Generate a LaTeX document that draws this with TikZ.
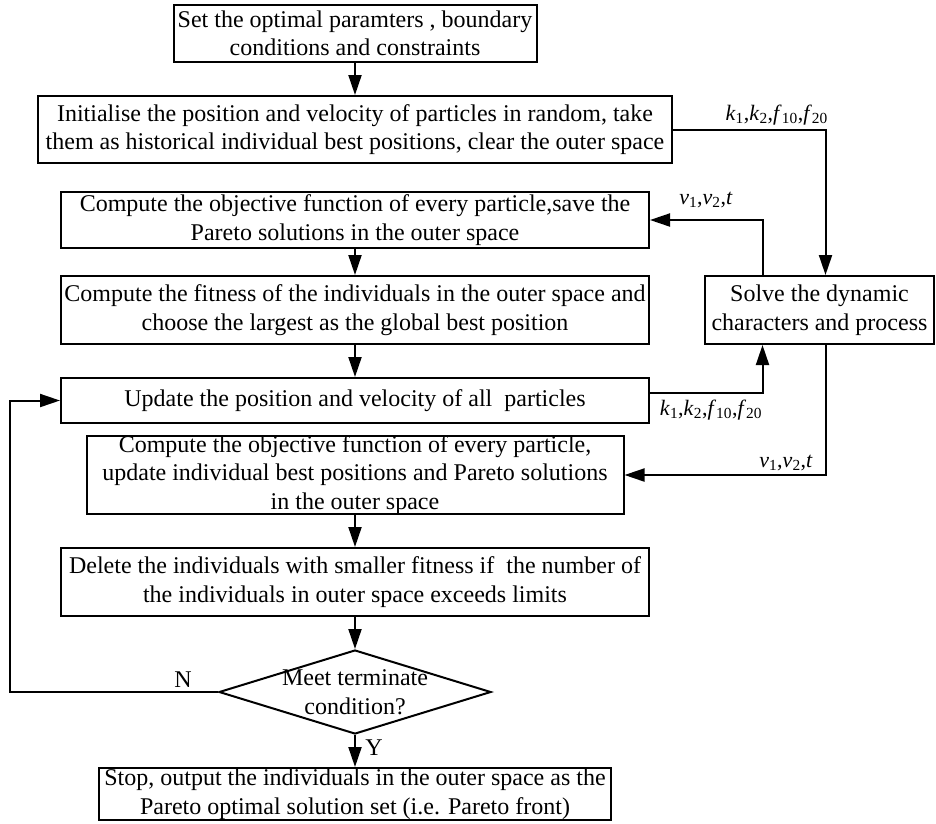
\documentclass[tikz,border=0pt]{standalone}
\usepackage{fontspec}
\setmainfont{Liberation Serif}
\usetikzlibrary{arrows.meta,shapes.geometric}
\begin{document}
\begin{tikzpicture}[x=1pt,y=-1pt,
  box/.style={draw,line width=2pt,inner sep=0pt,rectangle},
  txt/.style={align=center,inner sep=0pt,font=\fontsize{24}{28.5}\selectfont},
  lbl/.style={inner sep=0pt,font=\fontsize{22}{24}\selectfont},
  arr/.style={line width=2pt,-{Triangle[length=20pt,width=13pt]}},
  ln/.style={line width=2pt}]
\useasboundingbox (0,0) rectangle (936,823);
% boxes
\node[box,minimum width=363pt,minimum height=57pt] (b1) at (355,33.5) {};
\node[box,minimum width=634pt,minimum height=67pt] (b2) at (355,129.5) {};
\node[box,minimum width=588pt,minimum height=56pt] (b3) at (355,220) {};
\node[box,minimum width=588pt,minimum height=68pt] (b4) at (355,310) {};
\node[box,minimum width=229pt,minimum height=68pt] (sol) at (819.5,310) {};
\node[box,minimum width=588pt,minimum height=45pt] (upd) at (355,400.5) {};
\node[box,minimum width=537pt,minimum height=78pt] (c2) at (355,475) {};
\node[box,minimum width=588pt,minimum height=68pt] (del) at (355,582) {};
\node[draw,line width=2pt,diamond,inner sep=0pt,minimum width=272pt,minimum height=84pt] (dia) at (355,692) {};
\node[box,minimum width=512pt,minimum height=52pt] (stop) at (355,794) {};
% texts
\node[txt] at (b1) {Set the optimal paramters , boundary\\conditions and constraints};
\node[txt] at (b2) {Initialise the position and velocity of particles in random, take\\them as historical individual best positions, clear the outer space};
\node[txt] at (b3) {Compute the objective function of every particle,save the\\Pareto solutions in the outer space};
\node[txt] at (b4) {Compute the fitness of the individuals in the outer space and\\choose the largest as the global best position};
\node[txt] at (sol) {Solve the dynamic\\characters and process};
\node[txt] at (upd) {Update the position and velocity of all~ particles};
\node[txt] at (c2) {Compute the objective function of every particle,\\update individual best positions and Pareto solutions\\in the outer space};
\node[txt] at (del) {Delete the individuals with smaller fitness if~ the number of\\the individuals in outer space exceeds limits};
\node[txt] at (dia) {Meet terminate\\condition?};
\node[txt] at (stop) {Stop, output the individuals in the outer space as the\\Pareto optimal solution set (i.e. Pareto front)};
% main flow
\draw[arr] (b1.south) -- (b2.north);
\draw[arr] (b3.south) -- (b4.north);
\draw[arr] (b4.south) -- (upd.north);
\draw[arr] (c2.south) -- (del.north);
\draw[arr] (del.south) -- (dia.north);
\draw[arr] (dia.south) -- (stop.north);
% side loops
\draw[arr] (b2.east) -| ([xshift=6pt]sol.north);
\draw[arr] ([xshift=-57pt]sol.north) |- (b3.east);
\draw[arr] ([yshift=8pt]upd.east) -| ([xshift=-57pt]sol.south);
\draw[arr] ([xshift=6pt]sol.south) |- (c2.east);
\coordinate (loop) at (10,692);
\draw[arr] (dia.west) -- (loop) |- (upd.west);
% labels
\node[lbl,anchor=east] (l1) at (828,115) {\textit{k}\textsubscript{1},\textit{k}\textsubscript{2},\textit{f}\textsubscript{10},\textit{f}\textsubscript{20}};
\node[lbl] (l2) at (706,200) {\textit{v}\textsubscript{1},\textit{v}\textsubscript{2},\textit{t}};
\node[lbl] (l3) at (711,410) {\textit{k}\textsubscript{1},\textit{k}\textsubscript{2},\textit{f}\textsubscript{10},\textit{f}\textsubscript{20}};
\node[lbl] (l4) at (786,463) {\textit{v}\textsubscript{1},\textit{v}\textsubscript{2},\textit{t}};
\node[txt] (ln) at (183,680) {N};
\node[txt] (ly) at (374,748) {Y};
\end{tikzpicture}
\end{document}
